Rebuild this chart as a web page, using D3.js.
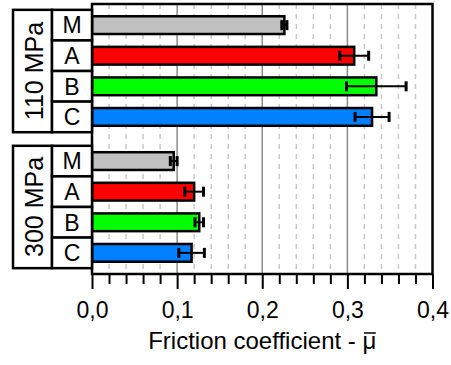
<!DOCTYPE html>
<html>
<head>
<meta charset="utf-8">
<script src="https://cdn.jsdelivr.net/npm/d3@7"></script>
<style>
  body { margin: 0; background: #fff; }
  text { font-family: "Liberation Sans", Arial, sans-serif; fill: #000; }
</style>
</head>
<body>
<div id="chart"></div>
<script>
const groups = ["110 MPa", "300 MPa"]
const materials = ["M", "A", "B", "C"]
const colors = ["#c0c0c0", "#ff0000", "#00ff00", "#0080ff"]
const friction110 = [0.226, 0.308, 0.334, 0.329]
const error110 = [0.003, 0.017, 0.035, 0.020]
const friction300 = [0.096, 0.120, 0.126, 0.117]
const error300 = [0.004, 0.011, 0.005, 0.015]
const majorTicks = [0, 0.1, 0.2, 0.3, 0.4]
const xTitle = "Friction coefficient - "
const xSymbol = "\u03BC"

const width = 451
const height = 365
const margin = {top: 4, right: 18.5, bottom: 91, left: 92}

const data = []
groups.forEach((g, gi) => {
    const vals = gi === 0 ? friction110 : friction300
    const errs = gi === 0 ? error110 : error300
    materials.forEach((m, i) => {
        data.push({group: g, mat: m, value: vals[i], err: errs[i], color: colors[i]})
    })
})

const svg = d3.select("#chart")
    .append("svg")
    .attr("width", width)
    .attr("height", height)
    .style("background-color", "#fff")

const x = d3.scaleLinear()
    .domain([0, 0.4])
    .range([margin.left, width - margin.right])

const yGroup = d3.scaleBand()
    .domain(groups)
    .range([margin.top, height - margin.bottom])
    .paddingInner(0.1)
    .paddingOuter(0.043)

const yMat = d3.scaleBand()
    .domain(materials)
    .range([0, yGroup.bandwidth()])
    .paddingInner(0.42)
    .paddingOuter(0.21)

const yBox = d3.scaleBand()
    .domain(materials)
    .range([0, yGroup.bandwidth()])

const plotTop = margin.top
const plotBottom = height - margin.bottom

// grid lines
const minorTicks = d3.range(1, 20).map(i => i * 0.02).filter(v => Math.abs(v * 10 - Math.round(v * 10)) > 1e-6)

svg.append("g")
    .selectAll("line")
    .data(minorTicks)
    .join("line")
    .attr("x1", d => x(d)).attr("x2", d => x(d))
    .attr("y1", plotTop).attr("y2", plotBottom)
    .attr("stroke", "#c8c8c8")
    .attr("stroke-width", 1.5)
    .attr("stroke-dasharray", "5,5")

svg.append("g")
    .selectAll("line")
    .data(majorTicks.slice(1, -1))
    .join("line")
    .attr("x1", d => x(d)).attr("x2", d => x(d))
    .attr("y1", plotTop).attr("y2", plotBottom)
    .attr("stroke", "#8a8a8a")
    .attr("stroke-width", 1.5)

// bars
const barY = d => yGroup(d.group) + yMat(d.mat)

svg.append("g")
    .selectAll("rect")
    .data(data)
    .join("rect")
    .attr("x", x(0))
    .attr("y", barY)
    .attr("width", d => x(d.value) - x(0))
    .attr("height", yMat.bandwidth())
    .attr("fill", d => d.color)
    .attr("stroke", "#000")
    .attr("stroke-width", 2.5)

// error bars
const eb = svg.append("g").attr("stroke", "#000")
const capH = 10
eb.selectAll(".err")
    .data(data)
    .join("line")
    .attr("x1", d => x(d.value - d.err))
    .attr("x2", d => x(d.value + d.err))
    .attr("y1", d => barY(d) + yMat.bandwidth() / 2)
    .attr("y2", d => barY(d) + yMat.bandwidth() / 2)
    .attr("stroke-width", 2)

eb.selectAll(".cap")
    .data(data.flatMap(d => [{d, v: d.value - d.err}, {d, v: d.value + d.err}]))
    .join("line")
    .attr("x1", c => x(c.v)).attr("x2", c => x(c.v))
    .attr("y1", c => barY(c.d) + yMat.bandwidth() / 2 - capH / 2)
    .attr("y2", c => barY(c.d) + yMat.bandwidth() / 2 + capH / 2)
    .attr("stroke-width", 3)

// x axis ticks
const fmt = d3.formatLocale({decimal: ",", thousands: ".", grouping: [3], currency: ["", ""]}).format(".1f")

const minorAxis = svg.append("g")
    .attr("transform", `translate(0,${plotBottom})`)
    .call(d3.axisBottom(x).tickValues(minorTicks).tickSize(10).tickFormat(""))
minorAxis.select(".domain").remove()
minorAxis.selectAll("line").attr("stroke", "#000").attr("stroke-width", 2)

const majorAxis = svg.append("g")
    .attr("transform", `translate(0,${plotBottom})`)
    .call(d3.axisBottom(x).tickValues(majorTicks).tickSize(15).tickFormat(fmt))
majorAxis.select(".domain").remove()
majorAxis.selectAll("line").attr("stroke", "#000").attr("stroke-width", 2)
majorAxis.selectAll("text")
    .attr("y", 44)
    .attr("dy", null)
    .attr("font-size", 23)
    .style("font-family", "'Liberation Sans', Arial, sans-serif")

// frame
svg.append("rect")
    .attr("x", x(0))
    .attr("y", plotTop)
    .attr("width", x(0.4) - x(0))
    .attr("height", plotBottom - plotTop)
    .attr("fill", "none")
    .attr("stroke", "#000")
    .attr("stroke-width", 2.5)

// axis title with a barred mu
const title = svg.append("text")
    .attr("x", (x(0) + x(0.4)) / 2)
    .attr("y", 349)
    .attr("text-anchor", "middle")
    .attr("font-size", 24)
title.append("tspan").text(xTitle)
title.append("tspan").text(xSymbol)

const tNode = title.node()
const last = tNode.getNumberOfChars() - 1
const mu0 = tNode.getStartPositionOfChar(last).x
const mu1 = tNode.getEndPositionOfChar(last).x
svg.append("line")
    .attr("x1", mu0 + 1.5).attr("x2", mu1 - 0.5)
    .attr("y1", 333).attr("y2", 333)
    .attr("stroke", "#000")
    .attr("stroke-width", 1.5)

// left label boxes
const boxL = 13
const boxM = 52
const boxR = x(0)

const lab = svg.append("g")
groups.forEach(g => {
    const gy = yGroup(g)
    lab.append("rect")
        .attr("x", boxL).attr("y", gy)
        .attr("width", boxM - boxL).attr("height", yGroup.bandwidth())
        .attr("fill", "#fff").attr("stroke", "#000").attr("stroke-width", 2.5)
    lab.append("text")
        .attr("transform", `translate(${(boxL + boxM) / 2 + 1},${gy + yGroup.bandwidth() / 2}) rotate(-90)`)
        .attr("text-anchor", "middle")
        .attr("dy", "0.36em")
        .attr("font-size", 25)
        .text(g)
    materials.forEach(m => {
        lab.append("rect")
            .attr("x", boxM).attr("y", gy + yBox(m))
            .attr("width", boxR - boxM).attr("height", yBox.bandwidth())
            .attr("fill", "#fff").attr("stroke", "#000").attr("stroke-width", 2.5)
        lab.append("text")
            .attr("x", (boxM + boxR) / 2)
            .attr("y", gy + yBox(m) + yBox.bandwidth() / 2)
            .attr("dy", "0.36em")
            .attr("text-anchor", "middle")
            .attr("font-size", 23)
            .text(m)
    })
})
</script>
</body>
</html>
